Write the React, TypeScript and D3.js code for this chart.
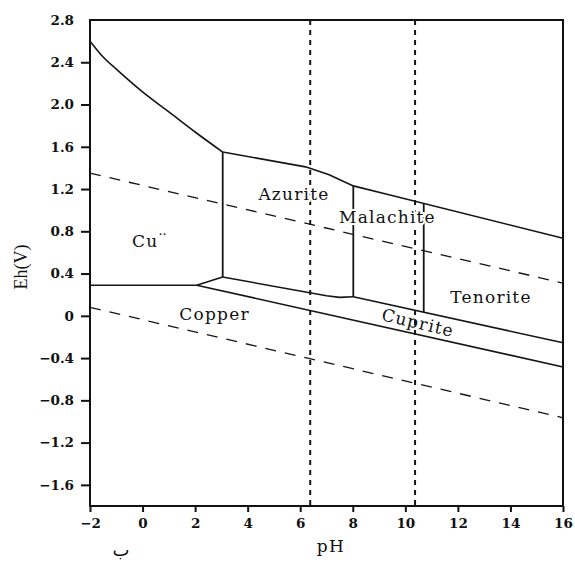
import React, { useEffect, useRef } from "react";
import * as d3 from "d3";

const W = 575;
const H = 569;

const xTicks = [-2, 0, 2, 4, 6, 8, 10, 12, 14, 16];
const yTicks = [-1.6, -1.2, -0.8, -0.4, 0, 0.4, 0.8, 1.2, 1.6, 2.0, 2.4, 2.8];

// boundaries as [pH, Eh]
const cuTopCurve: [number, number][] = [[-2, 2.6], [-1.5, 2.45], [-1, 2.335], [0, 2.12], [1, 1.93], [2, 1.74], [3.05, 1.55]];
const carbonateTop: [number, number][] = [[3.05, 1.55], [6.2, 1.41], [7.1, 1.335], [8.02, 1.23], [9.3, 1.15], [16, 0.735]];
const cuCopperLine: [number, number][] = [[-2, 0.29], [2.06, 0.29], [3.05, 0.367]];
const azuriteBottom: [number, number][] = [[3.05, 0.367], [7.0, 0.19], [7.5, 0.175], [8.02, 0.18]];
const cupriteTop: [number, number][] = [[8.02, 0.18], [16, -0.255]];
const cupriteBottom: [number, number][] = [[2.06, 0.29], [16, -0.484]];
const verticals: [number, number, number][] = [[3.05, 1.55, 0.367], [8.02, 1.23, 0.18], [10.7, 1.06, 0.035]];
const waterUpper: [number, number][] = [[-2, 1.35], [16, 0.31]];
const waterLower: [number, number][] = [[-2, 0.08], [16, -0.965]];
const dottedPH = [6.38, 10.37];

const regionNames = ["Azurite", "Malachite", "Tenorite", "Copper"];
const regionAt: [number, number][] = [[5.76, 1.098], [9.32, 0.88], [13.26, 0.124], [2.74, -0.037]];

export default function App() {
  const ref = useRef<SVGSVGElement>(null);

  useEffect(() => {
    const svg = d3.select(ref.current);
    svg.selectAll("*").remove();
    const x = d3.scaleLinear().domain([-2, 16]).range([90, 563]);
    const y = d3.scaleLinear().domain([-1.8, 2.8]).range([506, 20]);
    const serif = "DejaVu Serif";

    const line = d3.line<[number, number]>().x(d => x(d[0])).y(d => y(d[1]));
    const curve = d3.line<[number, number]>().x(d => x(d[0])).y(d => y(d[1])).curve(d3.curveMonotoneX);

    // x axis
    const gx = svg.append("g").attr("transform", `translate(0,${y(-1.8)})`)
      .call(d3.axisBottom(x).tickValues(xTicks).tickSize(6).tickSizeOuter(0).tickPadding(6).tickFormat(d3.format("d")));
    gx.select(".domain").remove();
    gx.selectAll("line").attr("stroke", "#111").attr("stroke-width", 2);
    gx.selectAll("text").attr("font-family", serif).attr("font-weight", "bold").attr("font-size", 13.5).attr("fill", "#111");

    // y axis
    const gy = svg.append("g").attr("transform", `translate(${x(-2)},0)`)
      .call(d3.axisLeft(y).tickValues(yTicks).tickSize(9).tickSizeOuter(0).tickPadding(7)
        .tickFormat(d => (+d === 0 ? "0" : d3.format(".1f")(+d))));
    gy.select(".domain").remove();
    gy.selectAll("line").attr("stroke", "#111").attr("stroke-width", 2);
    gy.selectAll<SVGGElement, number>(".tick").filter(d => d === 2.8).select("line").remove();
    gy.selectAll("text").attr("font-family", serif).attr("font-weight", "bold").attr("font-size", 13.5).attr("fill", "#111");

    // frame
    svg.append("rect").attr("x", x(-2)).attr("y", y(2.8)).attr("width", x(16) - x(-2)).attr("height", y(-1.8) - y(2.8))
      .attr("fill", "none").attr("stroke", "#111").attr("stroke-width", 2);

    const plot = svg.append("g").attr("fill", "none").attr("stroke", "#151515");

    // water stability dashed lines
    [waterUpper, waterLower].forEach(d => {
      plot.append("path").attr("d", line(d)).attr("stroke-width", 1.3).attr("stroke-dasharray", "11,9");
    });
    // dotted verticals
    dottedPH.forEach(p => {
      plot.append("line").attr("x1", x(p)).attr("x2", x(p)).attr("y1", y(2.8)).attr("y2", y(-1.8))
        .attr("stroke-width", 2).attr("stroke-dasharray", "5,5");
    });

    plot.append("path").attr("d", curve(cuTopCurve)).attr("stroke-width", 1.6);
    [carbonateTop, cuCopperLine, azuriteBottom, cupriteTop, cupriteBottom].forEach(d => {
      plot.append("path").attr("d", line(d)).attr("stroke-width", 1.6);
    });
    verticals.forEach(([p, a, b]) => {
      plot.append("line").attr("x1", x(p)).attr("x2", x(p)).attr("y1", y(a)).attr("y2", y(b)).attr("stroke-width", 1.8);
    });

    // region labels
    const labels = svg.append("g").attr("font-family", serif).attr("font-size", 17).attr("fill", "#111")
      .attr("text-anchor", "middle").attr("letter-spacing", 1.2);
    regionNames.forEach((n, i) => {
      labels.append("text").attr("x", x(regionAt[i][0])).attr("y", y(regionAt[i][1]))
        .attr("stroke", "#fff").attr("stroke-width", 4).attr("paint-order", "stroke").text(n);
    });
    const cu = labels.append("text").attr("x", x(-0.4)).attr("y", y(0.653)).attr("text-anchor", "start");
    cu.append("tspan").text("Cu");
    cu.append("tspan").attr("dy", -8).attr("font-size", 13).attr("letter-spacing", 0).text("··");

    const slope = Math.atan2(y(-0.255) - y(0.18), x(16) - x(8.02)) * 180 / Math.PI;
    labels.append("text").attr("transform", `translate(${x(10.48)},${y(-0.065)}) rotate(${slope + 1})`)
      .attr("dy", "0.35em").text("Cuprite");

    // axis titles
    svg.append("text").attr("transform", `translate(27,267) rotate(-90)`).attr("text-anchor", "middle")
      .attr("font-family", "Liberation Serif").attr("font-size", 18).attr("fill", "#111").text("Eh(V)");
    svg.append("text").attr("x", 331).attr("y", 552).attr("text-anchor", "middle")
      .attr("font-family", serif).attr("font-size", 17).attr("letter-spacing", 1.5).attr("fill", "#111").text("pH");
    svg.append("text").attr("x", 121).attr("y", 556).attr("text-anchor", "middle")
      .attr("font-family", "DejaVu Sans").attr("font-size", 18).attr("fill", "#111").text("ب");
  }, []);

  return (
    <svg ref={ref} width={W} height={H} style={{ position: "absolute", left: 0, top: 0, background: "#fff" }} />
  );
}
